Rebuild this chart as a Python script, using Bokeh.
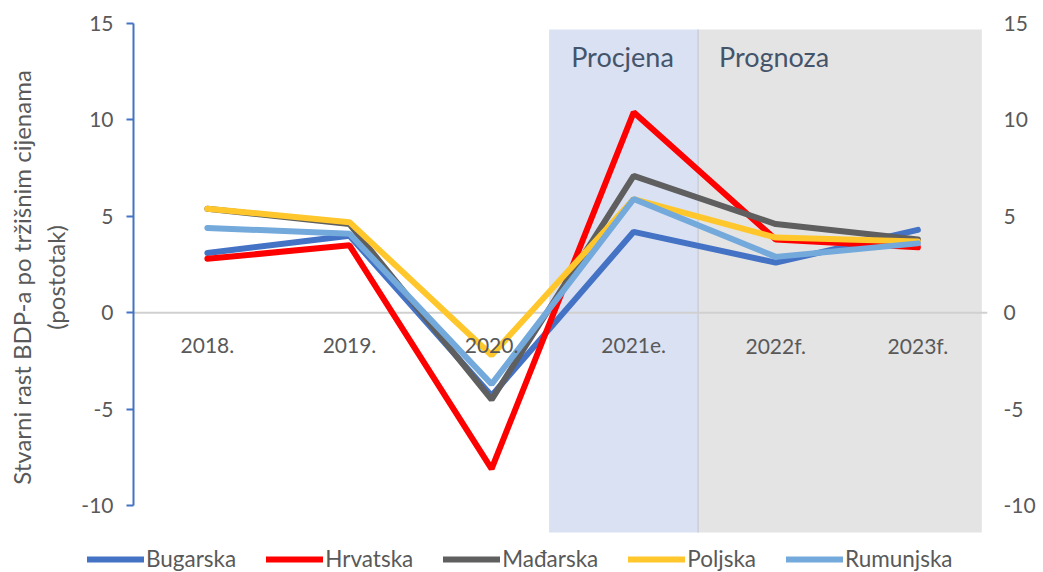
from bokeh.plotting import figure
from bokeh.models import (Range1d, LinearAxis, FixedTicker, BoxAnnotation, Span,
                          Legend, LegendItem, Label)
from bokeh.core.properties import value
from bokeh.embed import file_html
from bokeh.resources import INLINE

categories = ["2018.", "2019.", "2020.", "2021e.", "2022f.", "2023f."]
bugarska = [3.1, 4.0, -4.3, 4.2, 2.6, 4.3]
hrvatska = [2.8, 3.5, -8.1, 10.4, 3.8, 3.4]
madarska = [5.4, 4.6, -4.5, 7.1, 4.6, 3.8]
poljska = [5.4, 4.7, -2.2, 5.9, 3.9, 3.7]
rumunjska = [4.4, 4.1, -3.7, 5.9, 2.9, 3.6]
series_names = ["Bugarska", "Hrvatska", "Mađarska", "Poljska", "Rumunjska"]
series_colors = ["#4472C4", "#FF0000", "#5F5F5F", "#FFC72C", "#74A9DC"]
y_ticks = [-10, -5, 0, 5, 10, 15]
shade_labels = ["Procjena", "Prognoza"]

FONT = "Lato"
TXT = "#595959"
x = list(range(len(categories)))
all_series = [bugarska, hrvatska, madarska, poljska, rumunjska]

p = figure(width=1043, height=540, output_backend="svg", toolbar_location=None,
           x_range=Range1d(-0.52, 5.49), y_range=Range1d(-11.5, 15.16),
           x_axis_location=None,
           min_border_left=133, min_border_right=56, min_border_top=20, min_border_bottom=6)
p.outline_line_color = None
p.xgrid.visible = False
p.ygrid.visible = False
p.background_fill_color = "white"
p.border_fill_color = "white"

# shaded regions
i_est = categories.index("2021e.")
i_last = len(categories) - 1
p.add_layout(BoxAnnotation(left=i_est - 0.595, right=i_est + 0.453, bottom=-11.4, top=14.69,
                           fill_color="#D9E1F2", fill_alpha=1, line_color=None, level="underlay"))
p.add_layout(BoxAnnotation(left=i_est + 0.453, right=i_last + 0.45, bottom=-11.4, top=14.69,
                           fill_color="#E4E4E4", fill_alpha=1, line_color=None, level="underlay"))
p.add_layout(BoxAnnotation(left=i_est + 0.450, right=i_est + 0.457, bottom=-11.4, top=14.69,
                           fill_color="#BCC5D6", fill_alpha=1, line_color=None, level="underlay"))
p.add_layout(Span(location=0, dimension="width", line_color="#D0D0D0", line_width=2, level="underlay"))

p.add_layout(Label(x=i_est - 0.44, y=13.3, text=shade_labels[0], text_font=FONT,
                   text_font_size="27px", text_color="#44546A", text_baseline="middle"))
p.add_layout(Label(x=i_est + 0.6, y=13.3, text=shade_labels[1], text_font=FONT,
                   text_font_size="27px", text_color="#44546A", text_baseline="middle"))

overrides = {t: str(t) for t in y_ticks}

# left axis
ya = p.yaxis[0]
ya.ticker = FixedTicker(ticks=y_ticks)
ya.major_label_overrides = overrides
ya.bounds = (-10, 15)
ya.axis_line_color = "#4472C4"
ya.axis_line_width = 2
ya.major_tick_line_color = "#4472C4"
ya.major_tick_line_width = 2
ya.major_tick_out = 7
ya.major_tick_in = 0
ya.minor_tick_line_color = None
ya.major_label_text_font = FONT
ya.major_label_text_font_size = "21px"
ya.major_label_text_color = TXT
ya.major_label_standoff = 13
ya.axis_label = "Stvarni rast BDP-a po tržišnim cijenama\n(postotak)"
ya.axis_label_text_font = FONT
ya.axis_label_text_font_size = "24px"
ya.axis_label_text_font_style = "normal"
ya.axis_label_text_color = TXT
ya.axis_label_standoff = 8

# right axis
ra = LinearAxis(ticker=FixedTicker(ticks=y_ticks), bounds=(-10, 15),
                major_label_overrides=overrides,
                axis_line_color=None, major_tick_line_color=None, minor_tick_line_color=None,
                major_tick_out=0, major_tick_in=0,
                major_label_text_font=FONT, major_label_text_font_size="21px",
                major_label_text_color=TXT, major_label_standoff=16)
p.add_layout(ra, "right")

for vals, col in zip(all_series, series_colors):
    p.line(x, vals, line_width=6, line_color=col, line_cap="round")

# category labels next to the zero line (drawn above the lines, as in the original)
p.text(x=x, y=[0] * len(x), text=categories, text_align="center", text_baseline="middle",
       y_offset=33, text_font=value(FONT), text_font_size="21px", text_color=TXT)

# legend strip (separate root figure so it can sit outside the plot frame)
pl = figure(width=1043, height=32, output_backend="svg", toolbar_location=None,
            x_range=Range1d(-0.52, 5.49), y_range=Range1d(1000, 1001),
            x_axis_location=None, y_axis_location=None,
            min_border_left=0, min_border_right=0, min_border_top=0, min_border_bottom=0)
pl.outline_line_color = None
pl.xgrid.visible = False
pl.ygrid.visible = False
items = []
for name, vals, col in zip(series_names, all_series, series_colors):
    r = pl.line(x, vals, line_width=6, line_color=col, line_cap="round")
    items.append(LegendItem(label=name, renderers=[r]))
legend = Legend(items=items, orientation="horizontal", location=(87, 0),
                glyph_width=57, glyph_height=22, label_height=22, label_standoff=2, spacing=30,
                padding=0, margin=0, border_line_color=None, background_fill_alpha=0,
                label_text_font=FONT, label_text_font_size="22.5px", label_text_color=TXT)
pl.add_layout(legend, "center")

open("out.html", "w").write(file_html([p, pl], INLINE))
